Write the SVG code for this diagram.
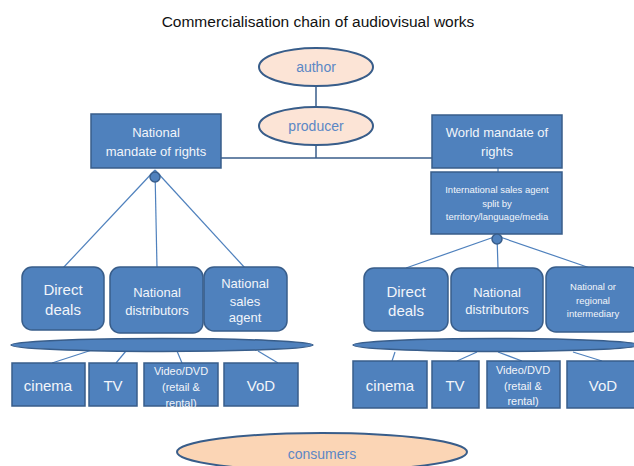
<svg xmlns="http://www.w3.org/2000/svg" width="634" height="466" viewBox="0 0 634 466">
<style>
text{font-family:"Liberation Sans",Arial,sans-serif;text-anchor:middle;}
.title{font-size:15.5px;fill:#111;}
.box{fill:#4F81BD;stroke:#385D8A;stroke-width:1.5;}
.bt{fill:#F2F5FA;}
.ell{fill:#FCE4D6;stroke:#385D8A;stroke-width:2;}
.et{fill:#5B87C5;font-size:14px;}
.flat{fill:#4F81BD;stroke:#385D8A;stroke-width:1.5;}
.c{stroke:#4F81BD;stroke-width:1.2;fill:none;}
.cd{stroke:#385D8A;stroke-width:1.5;fill:none;}
.dot{fill:#4F81BD;stroke:#385D8A;stroke-width:1.5;}
</style>
<rect width="634" height="466" fill="#fff"/>
<text class="title" x="318" y="27">Commercialisation chain of audiovisual works</text>

<g id="connectors">
<line class="cd" x1="316" y1="86" x2="316" y2="107"/>
<polyline class="cd" points="316,145 316,158"/>
<line class="cd" x1="221" y1="158" x2="432" y2="158"/>
<line class="c" x1="498" y1="168" x2="498" y2="172"/>
<line class="c" x1="155" y1="170" x2="63" y2="268"/>
<line class="c" x1="155" y1="170" x2="157" y2="268"/>
<line class="c" x1="155" y1="170" x2="245" y2="268"/>
<line class="c" x1="497" y1="236" x2="406" y2="268"/>
<line class="c" x1="497" y1="236" x2="498" y2="268"/>
<line class="c" x1="497" y1="236" x2="590" y2="268"/>
<line class="c" x1="52" y1="363" x2="92" y2="350"/>
<line class="c" x1="116" y1="363" x2="126" y2="351"/>
<line class="c" x1="182" y1="363" x2="177" y2="351"/>
<line class="c" x1="278" y1="363" x2="258" y2="351"/>
<line class="c" x1="392" y1="361" x2="395" y2="352"/>
<line class="c" x1="457" y1="361" x2="477" y2="352"/>
<line class="c" x1="522" y1="361" x2="498" y2="352"/>
<line class="c" x1="602" y1="361" x2="573" y2="352"/>
</g>

<g id="author"><ellipse class="ell" cx="316" cy="67" rx="57" ry="19"/><text class="et" x="316" y="72">author</text></g>
<g id="producer"><ellipse class="ell" cx="316" cy="126" rx="57" ry="19"/><text class="et" x="316" y="131">producer</text></g>

<g id="national-mandate"><rect class="box" x="91" y="114" width="130" height="54"/>
<text class="bt" font-size="13" x="156" y="137">National</text><text class="bt" font-size="13" x="156" y="156">mandate of rights</text></g>
<g id="dot-left"><circle class="dot" cx="155" cy="177" r="5"/></g>

<g id="world-mandate"><rect class="box" x="432" y="115" width="130" height="53"/>
<text class="bt" font-size="13" x="497" y="137">World mandate of</text><text class="bt" font-size="13" x="497" y="156">rights</text></g>

<g id="intl-sales-agent"><rect class="box" x="431" y="172" width="131" height="62"/>
<text class="bt" font-size="9.5" x="497" y="193">International sales agent</text>
<text class="bt" font-size="9.5" x="497" y="207">split by</text>
<text class="bt" font-size="9.5" x="497" y="220">territory/language/media</text></g>
<g id="dot-right"><circle class="dot" cx="497" cy="239" r="5"/></g>

<g id="direct-deals-l"><rect class="box" x="22" y="267" width="82" height="63" rx="10"/>
<text class="bt" font-size="15" x="63" y="295">Direct</text><text class="bt" font-size="15" x="63" y="315">deals</text></g>
<g id="national-distributors-l"><rect class="box" x="110" y="267" width="93" height="66" rx="10"/>
<text class="bt" font-size="13" x="157" y="297">National</text><text class="bt" font-size="13" x="157" y="315">distributors</text></g>
<g id="national-sales-agent"><rect class="box" x="204" y="267" width="83" height="64" rx="10"/>
<text class="bt" font-size="13" x="245" y="288">National</text><text class="bt" font-size="13" x="245" y="306">sales</text><text class="bt" font-size="13" x="245" y="322">agent</text></g>

<g id="direct-deals-r"><rect class="box" x="364" y="268" width="84" height="63" rx="10"/>
<text class="bt" font-size="15" x="406" y="297">Direct</text><text class="bt" font-size="15" x="406" y="316">deals</text></g>
<g id="national-distributors-r"><rect class="box" x="451" y="268" width="92" height="63" rx="10"/>
<text class="bt" font-size="13" x="497" y="297">National</text><text class="bt" font-size="13" x="497" y="314">distributors</text></g>
<g id="regional-intermediary"><rect class="box" x="546" y="267" width="94" height="65" rx="10"/>
<text class="bt" font-size="9.5" x="593" y="290">National or</text><text class="bt" font-size="9.5" x="593" y="304">regional</text><text class="bt" font-size="9.5" x="593" y="317">intermediary</text></g>

<g id="channel-bar-l"><ellipse class="flat" cx="162" cy="345" rx="151" ry="6.5"/></g>
<g id="channel-bar-r"><ellipse class="flat" cx="496" cy="345" rx="143" ry="6.5"/></g>

<g id="cinema-l"><rect class="box" x="12" y="363" width="73" height="43"/><text class="bt" font-size="15" x="48" y="391">cinema</text></g>
<g id="tv-l"><rect class="box" x="89" y="363" width="48" height="43"/><text class="bt" font-size="15" x="113" y="391">TV</text></g>
<g id="video-l"><rect class="box" x="144" y="363" width="74" height="43"/>
<text class="bt" font-size="11" x="181" y="375">Video/DVD</text><text class="bt" font-size="11" x="181" y="391">(retail &amp;</text><text class="bt" font-size="11" x="181" y="407">rental)</text></g>
<g id="vod-l"><rect class="box" x="224" y="363" width="74" height="43"/><text class="bt" font-size="15" x="261" y="391">VoD</text></g>

<g id="cinema-r"><rect class="box" x="353" y="361" width="74" height="47"/><text class="bt" font-size="15" x="390" y="391">cinema</text></g>
<g id="tv-r"><rect class="box" x="432" y="361" width="47" height="47"/><text class="bt" font-size="15" x="455" y="391">TV</text></g>
<g id="video-r"><rect class="box" x="487" y="361" width="73" height="47"/>
<text class="bt" font-size="11" x="523" y="374">Video/DVD</text><text class="bt" font-size="11" x="523" y="390">(retail &amp;</text><text class="bt" font-size="11" x="523" y="405">rental)</text></g>
<g id="vod-r"><rect class="box" x="567" y="361" width="73" height="47"/><text class="bt" font-size="15" x="603" y="391">VoD</text></g>

<g id="consumers"><ellipse class="ell" cx="322" cy="452" rx="145" ry="19" style="fill:#FBD5B5"/><text class="et" x="322" y="459">consumers</text></g>
</svg>
